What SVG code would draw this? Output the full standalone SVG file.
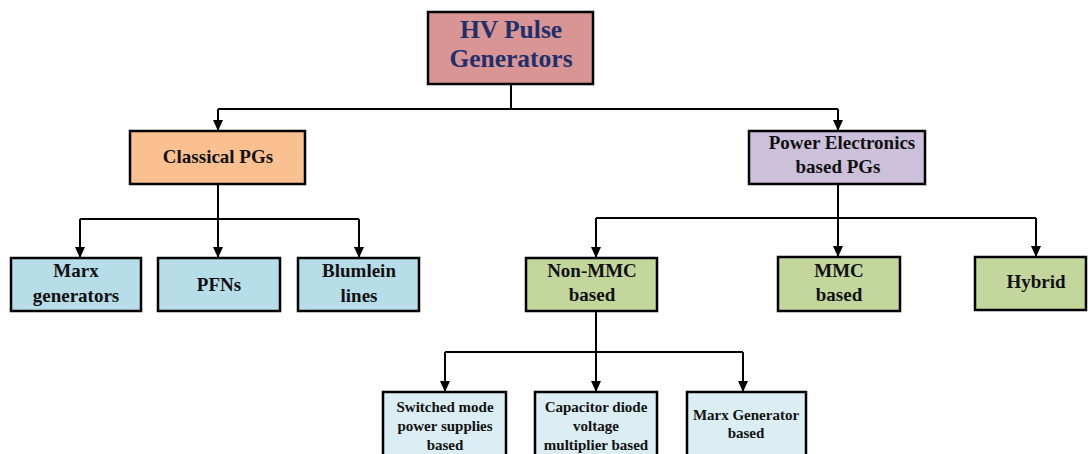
<svg xmlns="http://www.w3.org/2000/svg" width="1088" height="454" viewBox="0 0 1088 454">
<defs>
<marker id="arr" markerUnits="userSpaceOnUse" markerWidth="10" markerHeight="12" refX="5" refY="11" orient="0" viewBox="0 0 10 12">
<path d="M0,0 L10,0 L5,11 Z" fill="#000"/>
</marker>
<style>
.box{stroke:#000;stroke-width:2.5}
.t{font-family:"Liberation Serif","Times New Roman",serif;font-weight:bold;fill:#111;text-anchor:middle}
.m{font-size:19px}
.s{font-size:15px}
.title{font-size:25.5px;fill:#1F2F6B}
.c{fill:none;stroke:#000;stroke-width:2}
</style>
</defs>
<rect width="1088" height="454" fill="#fff"/>
<g id="connectors">
<path class="c" d="M511,84 V109 M218,109 H838"/>
<path class="c" d="M218,109 V131" marker-end="url(#arr)"/>
<path class="c" d="M838,109 V131" marker-end="url(#arr)"/>
<path class="c" d="M218,184 V219 M80,219 H359"/>
<path class="c" d="M80,219 V258" marker-end="url(#arr)"/>
<path class="c" d="M218,219 V258" marker-end="url(#arr)"/>
<path class="c" d="M359,219 V258" marker-end="url(#arr)"/>
<path class="c" d="M838,184 V218 M596,218 H1036"/>
<path class="c" d="M596,218 V258" marker-end="url(#arr)"/>
<path class="c" d="M838,218 V257" marker-end="url(#arr)"/>
<path class="c" d="M1036,218 V257" marker-end="url(#arr)"/>
<path class="c" d="M596,311 V352 M445,352 H743"/>
<path class="c" d="M445,352 V392" marker-end="url(#arr)"/>
<path class="c" d="M596,352 V392" marker-end="url(#arr)"/>
<path class="c" d="M743,352 V392" marker-end="url(#arr)"/>
</g>
<g id="hv">
<rect class="box" x="428" y="12" width="165" height="72" fill="#D99594"/>
<text class="t title" x="511" y="38">HV Pulse</text>
<text class="t title" x="511" y="67">Generators</text>
</g>
<g id="classical">
<rect class="box" x="130" y="131" width="175" height="53" fill="#FAC090"/>
<text class="t m" x="218" y="163">Classical PGs</text>
</g>
<g id="pe">
<rect class="box" x="749" y="131" width="176" height="53" fill="#CCC0DA"/>
<text class="t m" x="842" y="149">Power Electronics</text>
<text class="t m" x="838" y="173">based PGs</text>
</g>
<g id="marx">
<rect class="box" x="11" y="258" width="130" height="53" fill="#B7DDE8"/>
<text class="t m" x="76" y="277">Marx</text>
<text class="t m" x="76" y="302">generators</text>
</g>
<g id="pfns">
<rect class="box" x="158" y="258" width="122" height="53" fill="#B7DDE8"/>
<text class="t m" x="219" y="291">PFNs</text>
</g>
<g id="blumlein">
<rect class="box" x="298" y="258" width="121" height="53" fill="#B7DDE8"/>
<text class="t m" x="359" y="277">Blumlein</text>
<text class="t m" x="359" y="302">lines</text>
</g>
<g id="nonmmc">
<rect class="box" x="526" y="258" width="131" height="53" fill="#C3D69B"/>
<text class="t m" x="592" y="277">Non-MMC</text>
<text class="t m" x="592" y="301">based</text>
</g>
<g id="mmc">
<rect class="box" x="778" y="257" width="122" height="54" fill="#C3D69B"/>
<text class="t m" x="839" y="277">MMC</text>
<text class="t m" x="839" y="301">based</text>
</g>
<g id="hybrid">
<rect class="box" x="975" y="257" width="111" height="53" fill="#C3D69B"/>
<text class="t m" x="1036" y="288">Hybrid</text>
</g>
<g id="smps">
<rect class="box" x="383" y="392" width="123" height="70" fill="#DAEEF3"/>
<text class="t s" x="445" y="412">Switched mode</text>
<text class="t s" x="445" y="431">power supplies</text>
<text class="t s" x="445" y="450">based</text>
</g>
<g id="cdvm">
<rect class="box" x="535" y="392" width="122" height="70" fill="#DAEEF3"/>
<text class="t s" x="596" y="412">Capacitor diode</text>
<text class="t s" x="596" y="431">voltage</text>
<text class="t s" x="596" y="450">multiplier based</text>
</g>
<g id="marxgen">
<rect class="box" x="687" y="392" width="119" height="70" fill="#DAEEF3"/>
<text class="t s" x="746" y="420">Marx Generator</text>
<text class="t s" x="746" y="438">based</text>
</g>
</svg>
